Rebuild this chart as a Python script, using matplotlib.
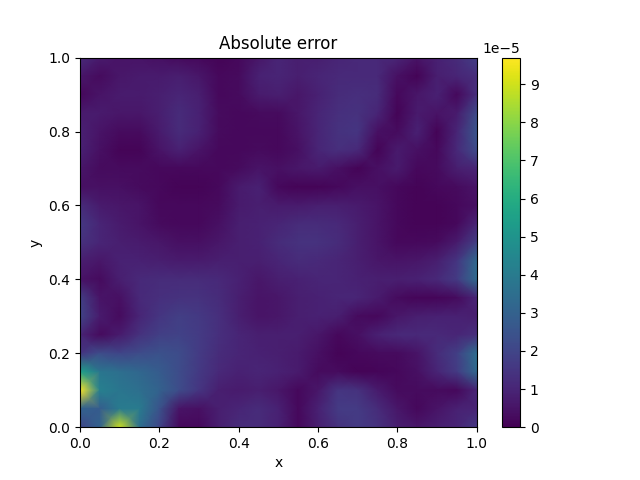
import numpy as np
import matplotlib
matplotlib.use('Agg')
import matplotlib.pyplot as plt

# grid, in units of 1e-5, top row is y=1
x = np.linspace(0, 1, 21)
y = np.linspace(1, 0, 21)
err = [
    [1.2, 0.7, 0.5, 0.5, 0.4, 0.3, 0.2, 0.1, 0.2, 0.6, 1.0, 0.8, 0.8, 1.0, 1.1, 1.1, 1.0, 0.5, 0.9, 1.2, 1.8],
    [0.6, 0.3, 0.6, 0.7, 0.7, 0.8, 0.6, 0.2, 0.3, 0.9, 1.0, 0.8, 1.0, 1.1, 1.1, 1.1, 0.4, 0.1, 0.8, 1.0, 1.3],
    [0.2, 0.5, 0.7, 0.7, 0.8, 1.0, 0.8, 0.2, 0.3, 0.7, 0.8, 0.6, 0.9, 1.2, 1.3, 1.2, 0.2, 0.6, 0.9, 0.2, 1.3],
    [0.7, 0.7, 0.6, 0.6, 0.8, 1.2, 0.9, 0.3, 0.2, 0.3, 0.3, 0.6, 1.0, 1.3, 1.4, 1.0, 0.1, 0.7, 0.5, 0.7, 2.2],
    [0.9, 0.5, 0.3, 0.3, 0.7, 1.2, 0.9, 0.3, 0.2, 0.2, 0.2, 0.5, 1.0, 1.4, 1.5, 0.4, 0.3, 0.9, 0.1, 1.0, 2.6],
    [0.9, 0.4, 0.1, 0.1, 0.5, 0.9, 0.5, 0.2, 0.2, 0.3, 0.2, 0.4, 1.0, 1.3, 1.1, 0.1, 0.7, 0.4, 0.2, 1.1, 2.2],
    [0.6, 0.3, 0.3, 0.3, 0.2, 0.2, 0.2, 0.2, 0.3, 0.5, 0.4, 0.6, 0.7, 0.4, 0.1, 0.4, 0.7, 0.2, 0.3, 0.8, 1.0],
    [0.4, 0.4, 0.4, 0.3, 0.2, 0.1, 0.1, 0.2, 0.7, 0.9, 0.2, 0.1, 0.1, 0.2, 0.4, 0.4, 0.2, 0.1, 0.2, 0.3, 0.5],
    [1.2, 0.7, 0.6, 0.5, 0.2, 0.2, 0.2, 0.3, 0.7, 0.8, 0.7, 0.7, 0.8, 0.8, 0.7, 0.5, 0.2, 0.1, 0.1, 0.2, 0.4],
    [1.6, 1.0, 0.7, 0.5, 0.3, 0.2, 0.2, 0.4, 0.8, 0.9, 1.0, 1.2, 1.2, 1.1, 0.8, 0.5, 0.2, 0.1, 0.1, 0.2, 1.0],
    [1.4, 1.0, 0.8, 0.7, 0.6, 0.4, 0.4, 0.6, 0.8, 0.9, 1.2, 1.4, 1.4, 1.2, 0.8, 0.5, 0.2, 0.2, 0.3, 0.7, 1.8],
    [0.8, 0.6, 0.9, 0.9, 0.8, 0.7, 0.7, 0.8, 0.8, 0.8, 1.0, 1.2, 1.1, 1.0, 0.8, 0.6, 0.5, 0.6, 0.8, 1.5, 3.3],
    [0.5, 0.3, 0.8, 1.1, 1.2, 1.2, 1.2, 1.1, 0.9, 0.6, 0.8, 0.9, 1.0, 1.0, 0.9, 0.8, 0.8, 0.9, 1.1, 1.7, 3.4],
    [1.8, 0.5, 0.4, 1.1, 1.3, 1.4, 1.4, 1.2, 0.8, 0.5, 0.6, 0.8, 0.9, 1.0, 1.0, 0.7, 0.3, 0.15, 0.15, 0.3, 1.0],
    [2.0, 0.7, 0.3, 1.0, 1.5, 1.8, 1.6, 1.3, 0.8, 0.5, 0.6, 0.8, 0.9, 0.8, 0.3, 0.2, 0.6, 0.8, 0.9, 0.9, 0.8],
    [1.0, 0.3, 0.7, 1.4, 1.8, 1.9, 1.7, 1.3, 1.0, 0.8, 0.8, 0.8, 0.6, 0.2, 0.4, 0.9, 1.1, 1.1, 1.1, 1.0, 1.3],
    [1.5, 2.2, 2.0, 2.2, 2.4, 2.2, 1.7, 1.2, 1.0, 0.9, 0.8, 0.7, 0.4, 0.1, 0.2, 0.3, 0.3, 0.5, 1.2, 1.8, 3.5],
    [5.5, 3.8, 3.5, 3.2, 2.8, 2.2, 1.6, 1.1, 0.9, 1.0, 0.9, 0.7, 0.3, 0.3, 0.1, 0.15, 0.2, 0.4, 1.0, 1.7, 3.3],
    [9.7, 4.2, 3.8, 3.5, 3.0, 2.2, 1.5, 0.8, 0.7, 0.8, 0.6, 0.2, 0.6, 1.5, 1.4, 0.7, 0.3, 0.3, 0.3, 0.2, 1.0],
    [3.0, 2.8, 4.0, 4.0, 2.5, 0.5, 0.4, 0.8, 1.0, 1.2, 0.9, 0.2, 0.9, 1.7, 1.7, 1.2, 0.6, 0.2, 0.5, 0.9, 1.0],
    [2.0, 3.0, 9.0, 3.5, 2.0, 0.2, 0.2, 0.8, 1.2, 1.2, 0.9, 0.2, 0.8, 1.4, 1.7, 1.4, 0.8, 0.6, 0.8, 1.0, 1.6],
]
err = np.array(err) * 1e-5
cbar_ticks = np.arange(0, 10) * 1e-5

plt.figure(figsize=(6.4, 4.8), dpi=100)
mesh = plt.pcolormesh(x, y, err, shading='gouraud', cmap='viridis', vmin=0, vmax=9.7e-5)
cbar = plt.colorbar(mesh)
cbar.set_ticks(cbar_ticks)
plt.xlim(0, 1)
plt.ylim(0, 1)
plt.title('Absolute error')
plt.xlabel('x')
plt.ylabel('y')
plt.savefig('out.png', dpi=100)
